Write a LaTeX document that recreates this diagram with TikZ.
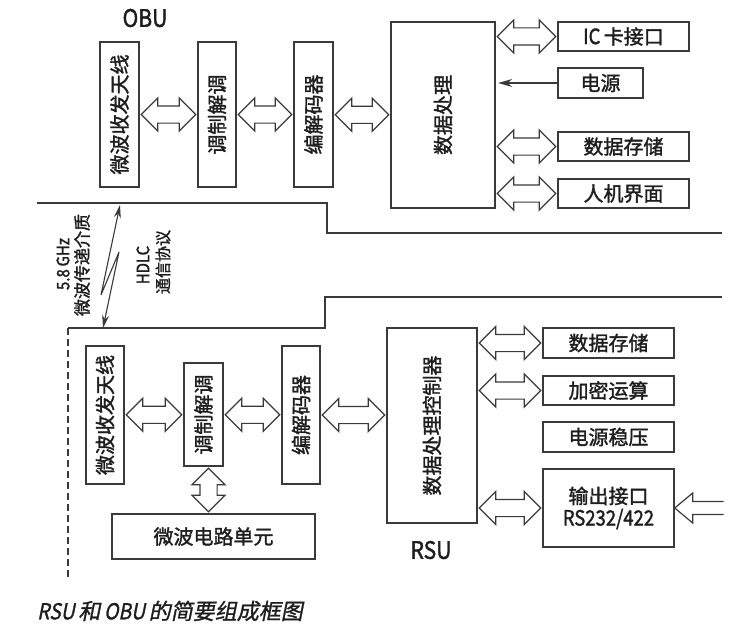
\documentclass[tikz,border=0pt]{standalone}
\usepackage{fontspec}
\setmainfont{Noto Sans CJK SC}[RawFeature={embolden=1.6}]
\newfontfamily\narrowfont{Noto Sans CJK SC}[FakeStretch=0.88,RawFeature={embolden=1.6}]
\newfontfamily\capfont{Noto Sans CJK SC}[FakeSlant=0.2,RawFeature={embolden=1.2}]
\newfontfamily\capnarrow{Noto Sans CJK SC}[FakeSlant=0.2,FakeStretch=0.88,RawFeature={embolden=1.2}]
\usetikzlibrary{shapes.arrows,calc,arrows.meta}
\definecolor{linec}{HTML}{3A3A3A}
\definecolor{txtc}{HTML}{1E1E1E}
\newcommand\hconn[2]{\path let \p1=(#1), \p2=(#2) in node[dbl, minimum height={\x2-\x1-3pt}] at ($(\p1)!0.5!(\p2)$) {};}
\begin{document}
\begin{tikzpicture}[x=1pt,y=-1pt,
  box/.style={draw=linec, line width=1.4pt, fill=white, inner sep=0pt, text=txtc, font=\fontsize{20}{24}\selectfont},
  dbl/.style={double arrow, draw=linec, line width=1.2pt, fill=white, double arrow head extend=8pt, inner xsep=0pt, inner ysep=8pt, double arrow tip angle=90},
  sep/.style={draw=linec, line width=1.3pt},
  lbl/.style={text=txtc, inner sep=0pt},
  thinarrow/.style={draw=linec, line width=1.1pt}
]
\useasboundingbox (0,0) rectangle (752,642);

% ---------- OBU ----------
\node[lbl, font=\narrowfont\fontsize{24}{26}\selectfont] (obu) at (145,18) {OBU};
\node[box, minimum width=39pt, minimum height=145pt] (oant) at (119.5,114.5) {\rotatebox{90}{微波收发天线}};
\node[box, minimum width=38pt, minimum height=145pt] (omod) at (217,114.5) {\rotatebox{90}{调制解调}};
\node[box, minimum width=39pt, minimum height=145pt] (ocod) at (313.5,114.5) {\rotatebox{90}{编解码器}};
\node[box, minimum width=104pt, minimum height=186pt] (odp) at (443,115) {\rotatebox{90}{数据处理}};
\node[box, minimum width=131pt, minimum height=29pt] (oic) at (623.5,36.5) {{\narrowfont\fontsize{21}{24}\selectfont IC}\,卡接口};
\node[box, minimum width=85pt, minimum height=30pt] (opw) at (600.5,83) {电源};
\node[box, minimum width=131pt, minimum height=29pt] (ostore) at (623.5,146.5) {数据存储};
\node[box, minimum width=131pt, minimum height=29pt] (ohmi) at (623.5,193.5) {人机界面};

\hconn{oant.east}{omod.west}
\hconn{omod.east}{ocod.west}
\hconn{ocod.east}{odp.west}
\hconn{odp.east |- oic.west}{oic.west}
\hconn{odp.east |- ostore.west}{ostore.west}
\hconn{odp.east |- ohmi.west}{ohmi.west}
\draw[thinarrow, -{Stealth[length=14pt,width=8pt]}, shorten >=2.5pt] (opw.west) -- (odp.east |- opw.west);

% ---------- separators ----------
\draw[sep] (37,203) -- (327,203) -- (327,233) -- (722,233);
\draw[sep] (722,297) -- (325,297) -- (325,328) -- (68,328);
\draw[sep, dash pattern=on 7pt off 4pt] (68,328) -- (68,578);

% ---------- wireless link ----------
\coordinate (la) at (120,205);
\coordinate (lb) at (101,295);
\coordinate (lc) at (119,252);
\coordinate (ld) at (103,328);
\draw[thinarrow, {Stealth[length=13pt,width=7pt]}-{Stealth[length=13pt,width=7pt]}] (la) -- (lb) -- (lc) -- (ld);
\node[lbl, font=\narrowfont\fontsize{17}{18}\selectfont, rotate=90] (l58) at (63,264) {5.8\,GHz};
\node[lbl, font=\fontsize{17}{19}\selectfont, rotate=90] (lmedia) at (82,265) {微波传递介质};
\node[lbl, font=\narrowfont\fontsize{17}{18}\selectfont, rotate=90] (lhdlc) at (143,265) {HDLC};
\node[lbl, font=\fontsize{16}{18}\selectfont, rotate=90] (lproto) at (163,262) {通信协议};

% ---------- RSU ----------
\node[box, minimum width=38pt, minimum height=138pt] (rant) at (105,415) {\rotatebox{90}{微波收发天线}};
\node[box, minimum width=39pt, minimum height=103pt] (rmod) at (203.5,414.5) {\rotatebox{90}{调制解调}};
\node[box, minimum width=38pt, minimum height=138pt] (rcod) at (301,415) {\rotatebox{90}{编解码器}};
\node[box, minimum width=203pt, minimum height=45pt] (rmw) at (213.5,536.5) {微波电路单元};
\node[box, minimum width=90pt, minimum height=195pt] (rctrl) at (432,425.5) {\rotatebox{90}{数据处理控制器}};
\node[box, minimum width=131pt, minimum height=30pt] (rstore) at (608.5,343) {数据存储};
\node[box, minimum width=131pt, minimum height=29pt] (renc) at (608.5,390.5) {加密运算};
\node[box, minimum width=131pt, minimum height=30pt] (rpw) at (608.5,437) {电源稳压};
\node[box, minimum width=131pt, minimum height=78pt, align=center] (rout) at (608.5,508) {输出接口\\[-2pt]{\narrowfont\fontsize{21}{24}\selectfont RS232/422}};
\node[lbl, font=\narrowfont\fontsize{24}{26}\selectfont] (rsu) at (431,550) {RSU};

\hconn{rant.east}{rmod.west}
\hconn{rmod.east}{rcod.west}
\hconn{rcod.east}{rctrl.west |- rcod.east}
\hconn{rctrl.east |- rstore.west}{rstore.west}
\hconn{rctrl.east |- renc.west}{renc.west}
\hconn{rctrl.east |- rout.west}{rout.west}
\path let \p1=(rmod.south), \p2=(rmw.north) in node[dbl, rotate=90, minimum height={\y1-\y2-3pt}] (vconn) at ($(\p1)!0.5!(\p2)$) {};

% input arrow into output interface
\draw[thinarrow, line width=1.2pt, fill=white]
  ($(rout.east)+(49,-6.5)$) -- ($(rout.east)+(18,-6.5)$) -- ($(rout.east)+(18,-15)$) -- (rout.east)
  -- ($(rout.east)+(18,15)$) -- ($(rout.east)+(18,6.5)$) -- ($(rout.east)+(49,6.5)$);

% ---------- caption ----------
\node[lbl, anchor=west, font=\capfont\fontsize{22}{24}\selectfont] (cap) at (37,611) {{\capnarrow RSU}\,和\,{\capnarrow OBU}\,的简要组成框图};
\end{tikzpicture}
\end{document}
